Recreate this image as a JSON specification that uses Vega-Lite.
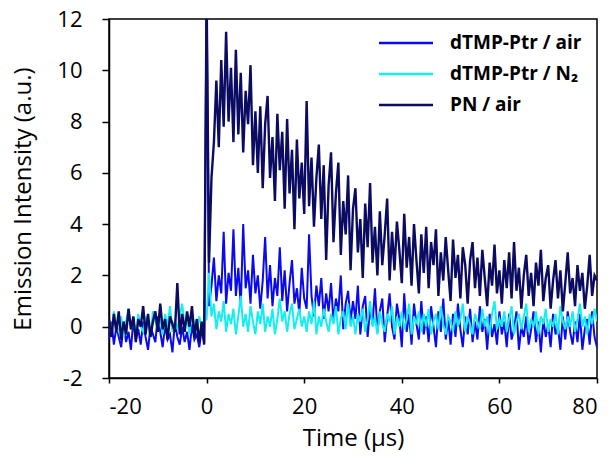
{
"$schema": "https://vega.github.io/schema/vega-lite/v6.json",
"width": 488, "height": 359,
"autosize": {"type": "none"},
"padding": {"left": 109, "top": 19, "right": 18, "bottom": 81},
"background": "white",
"config": {"view": {"stroke": "black", "strokeWidth": 1.5}, "font": "Open Sans"},
"data": {"values": [
{"t":-20,"a":-0.5,"n":0.1,"p":0.3},{"t":-19.5,"a":0.2,"n":-0.3,"p":-0.4},{"t":-19,"a":-0.7,"n":0.6,"p":0.5},{"t":-18.5,"a":0.0,"n":0.0,"p":-0.2},{"t":-18,"a":-0.4,"n":-0.2,"p":0.6},{"t":-17.5,"a":-0.8,"n":0.4,"p":-0.5},{"t":-17,"a":0.1,"n":-0.4,"p":0.2},{"t":-16.5,"a":-0.6,"n":0.2,"p":-0.3},{"t":-16,"a":-0.2,"n":0.7,"p":0.7},{"t":-15.5,"a":-0.9,"n":-0.1,"p":-0.1},
{"t":-15,"a":0.3,"n":0.3,"p":0.4},{"t":-14.5,"a":-0.5,"n":-0.3,"p":-0.6},{"t":-14,"a":-0.1,"n":0.5,"p":0.3},{"t":-13.5,"a":-0.7,"n":0.0,"p":0.0},{"t":-13,"a":0.2,"n":-0.2,"p":0.8},{"t":-12.5,"a":-0.4,"n":0.4,"p":-0.3},{"t":-12,"a":-0.9,"n":0.1,"p":0.5},{"t":-11.5,"a":0.0,"n":-0.4,"p":-0.4},{"t":-11,"a":-0.3,"n":0.6,"p":0.2},{"t":-10.5,"a":-0.6,"n":0.2,"p":0.6},
{"t":-10,"a":0.4,"n":-0.1,"p":-0.2},{"t":-9.5,"a":-0.2,"n":0.3,"p":0.9},{"t":-9,"a":-0.8,"n":-0.3,"p":-0.1},{"t":-8.5,"a":0.1,"n":0.5,"p":0.3},{"t":-8,"a":-0.5,"n":0.0,"p":-0.5},{"t":-7.5,"a":-0.3,"n":0.8,"p":0.4},{"t":-7,"a":-1.0,"n":-0.2,"p":0.1},{"t":-6.5,"a":0.2,"n":0.2,"p":-0.2},{"t":-6,"a":-0.4,"n":-0.1,"p":1.7},{"t":-5.5,"a":-0.7,"n":0.4,"p":-0.3},
{"t":-5,"a":0.0,"n":0.9,"p":0.5},{"t":-4.5,"a":-0.6,"n":0.0,"p":-0.2},{"t":-4,"a":-0.2,"n":0.3,"p":0.6},{"t":-3.5,"a":-0.9,"n":-0.3,"p":0.0},{"t":-3,"a":0.1,"n":0.5,"p":0.8},{"t":-2.5,"a":-0.5,"n":0.1,"p":-0.4},{"t":-2,"a":-0.3,"n":-0.2,"p":0.3},{"t":-1.5,"a":-0.8,"n":0.4,"p":-0.6},{"t":-1,"a":-0.1,"n":0.0,"p":0.2},{"t":-0.5,"a":-0.6,"n":0.2,"p":-0.7},
{"t":0,"a":13,"n":0.3,"p":13},
{"t":0.5,"a":0.8,"n":2.1,"p":2.5},{"t":1,"a":1.6,"n":0.4,"p":5.8},{"t":1.5,"a":2.7,"n":0.9,"p":7.2},{"t":2,"a":1.0,"n":-0.1,"p":9.6},{"t":2.5,"a":2.0,"n":0.6,"p":7.0},{"t":3,"a":1.3,"n":0.2,"p":10.4},{"t":3.5,"a":3.7,"n":1.0,"p":7.8},{"t":4,"a":0.9,"n":-0.2,"p":11.5},{"t":4.5,"a":2.1,"n":0.5,"p":8.0},{"t":5,"a":1.4,"n":0.1,"p":10.1},
{"t":5.5,"a":3.8,"n":0.7,"p":7.2},{"t":6,"a":1.2,"n":-0.3,"p":10.8},{"t":6.5,"a":2.3,"n":0.4,"p":7.5},{"t":7,"a":0.8,"n":1.2,"p":9.9},{"t":7.5,"a":4.0,"n":0.0,"p":6.8},{"t":8,"a":1.5,"n":0.5,"p":9.2},{"t":8.5,"a":2.2,"n":-0.2,"p":7.9},{"t":9,"a":0.9,"n":0.8,"p":10.2},{"t":9.5,"a":2.8,"n":0.2,"p":6.3},{"t":10,"a":1.3,"n":-0.3,"p":8.4},
{"t":10.5,"a":2.0,"n":0.6,"p":6.0},{"t":11,"a":0.7,"n":0.1,"p":8.6},{"t":11.5,"a":1.8,"n":0.9,"p":5.4},{"t":12,"a":3.5,"n":-0.2,"p":7.9},{"t":12.5,"a":1.1,"n":0.4,"p":9.0},{"t":13,"a":2.4,"n":0.0,"p":5.8},{"t":13.5,"a":0.8,"n":0.7,"p":7.4},{"t":14,"a":1.9,"n":-0.3,"p":4.9},{"t":14.5,"a":1.2,"n":0.3,"p":8.3},{"t":15,"a":3.1,"n":1.1,"p":6.1},
{"t":15.5,"a":1.0,"n":0.2,"p":7.6},{"t":16,"a":2.2,"n":0.6,"p":4.6},{"t":16.5,"a":0.6,"n":-0.2,"p":8.1},{"t":17,"a":1.7,"n":0.5,"p":5.2},{"t":17.5,"a":2.6,"n":0.9,"p":6.9},{"t":18,"a":0.9,"n":-0.1,"p":3.8},{"t":18.5,"a":1.5,"n":0.3,"p":7.3},{"t":19,"a":0.5,"n":0.7,"p":5.0},{"t":19.5,"a":2.3,"n":0.0,"p":6.4},{"t":20,"a":1.1,"n":0.4,"p":4.4},
{"t":20.5,"a":0.7,"n":-0.2,"p":8.8},{"t":21,"a":3.6,"n":0.6,"p":4.7},{"t":21.5,"a":1.2,"n":0.1,"p":6.6},{"t":22,"a":0.4,"n":1.0,"p":3.9},{"t":22.5,"a":1.6,"n":-0.3,"p":5.8},{"t":23,"a":0.8,"n":0.4,"p":7.1},{"t":23.5,"a":1.9,"n":0.0,"p":4.2},{"t":24,"a":0.3,"n":0.7,"p":6.3},{"t":24.5,"a":1.3,"n":0.2,"p":2.6},{"t":25,"a":0.6,"n":-0.2,"p":5.5},
{"t":25.5,"a":1.7,"n":0.5,"p":6.8},{"t":26,"a":0.2,"n":0.1,"p":3.3},{"t":26.5,"a":1.1,"n":0.8,"p":5.2},{"t":27,"a":0.6,"n":-0.3,"p":6.4},{"t":27.5,"a":2.0,"n":0.3,"p":2.8},{"t":28,"a":-0.1,"n":0.6,"p":4.9},{"t":28.5,"a":0.9,"n":-0.1,"p":3.6},{"t":29,"a":1.4,"n":0.9,"p":5.9},{"t":29.5,"a":0.2,"n":0.0,"p":2.2},{"t":30,"a":1.0,"n":0.4,"p":4.6},
{"t":30.5,"a":0.3,"n":-0.3,"p":5.4},{"t":31,"a":1.6,"n":0.5,"p":2.9},{"t":31.5,"a":-0.3,"n":0.2,"p":4.2},{"t":32,"a":0.8,"n":0.7,"p":1.9},{"t":32.5,"a":1.2,"n":-0.2,"p":4.8},{"t":33,"a":-0.4,"n":0.3,"p":3.1},{"t":33.5,"a":0.7,"n":1.0,"p":5.6},{"t":34,"a":0.1,"n":0.0,"p":2.5},{"t":34.5,"a":1.5,"n":0.4,"p":3.9},{"t":35,"a":-0.2,"n":-0.3,"p":2.0},
{"t":35.5,"a":0.6,"n":0.6,"p":4.5},{"t":36,"a":1.1,"n":0.1,"p":2.4},{"t":36.5,"a":-0.6,"n":-0.2,"p":3.6},{"t":37,"a":0.4,"n":0.5,"p":5.0},{"t":37.5,"a":1.3,"n":0.2,"p":1.8},{"t":38,"a":0.0,"n":0.8,"p":3.7},{"t":38.5,"a":-0.5,"n":-0.3,"p":2.2},{"t":39,"a":0.9,"n":0.4,"p":4.1},{"t":39.5,"a":0.3,"n":0.0,"p":3.0},{"t":40,"a":-0.8,"n":0.6,"p":1.7},
{"t":40.5,"a":1.3,"n":-0.1,"p":4.4},{"t":41,"a":-0.2,"n":0.3,"p":2.3},{"t":41.5,"a":0.5,"n":0.9,"p":3.5},{"t":42,"a":-0.7,"n":-0.3,"p":1.6},{"t":42.5,"a":0.9,"n":0.4,"p":4.0},{"t":43,"a":0.1,"n":0.1,"p":2.6},{"t":43.5,"a":-0.5,"n":0.6,"p":1.3},{"t":44,"a":1.0,"n":-0.2,"p":3.6},{"t":44.5,"a":-0.3,"n":0.5,"p":2.1},{"t":45,"a":0.4,"n":0.0,"p":3.9},
{"t":45.5,"a":-0.6,"n":0.7,"p":1.5},{"t":46,"a":0.8,"n":-0.3,"p":3.3},{"t":46.5,"a":0.0,"n":0.2,"p":2.4},{"t":47,"a":-0.8,"n":0.5,"p":3.8},{"t":47.5,"a":0.6,"n":-0.1,"p":1.2},{"t":48,"a":-0.2,"n":0.8,"p":2.9},{"t":48.5,"a":1.1,"n":0.1,"p":1.8},{"t":49,"a":-0.5,"n":-0.3,"p":3.5},{"t":49.5,"a":0.3,"n":0.4,"p":2.2},{"t":50,"a":-0.7,"n":0.2,"p":1.0},
{"t":50.5,"a":0.5,"n":-0.2,"p":3.4},{"t":51,"a":-0.4,"n":0.6,"p":1.9},{"t":51.5,"a":0.9,"n":0.0,"p":2.8},{"t":52,"a":-0.1,"n":0.3,"p":1.1},{"t":52.5,"a":-0.8,"n":0.9,"p":3.1},{"t":53,"a":0.4,"n":-0.2,"p":2.4},{"t":53.5,"a":-0.3,"n":0.4,"p":0.9},{"t":54,"a":0.7,"n":0.1,"p":2.6},{"t":54.5,"a":-0.6,"n":-0.3,"p":3.3},{"t":55,"a":0.2,"n":0.5,"p":1.5},
{"t":55.5,"a":-0.5,"n":0.2,"p":2.7},{"t":56,"a":0.8,"n":-0.1,"p":1.2},{"t":56.5,"a":-0.2,"n":0.7,"p":3.0},{"t":57,"a":0.3,"n":0.0,"p":1.9},{"t":57.5,"a":-0.9,"n":0.4,"p":0.8},{"t":58,"a":0.5,"n":-0.3,"p":2.5},{"t":58.5,"a":-0.4,"n":0.5,"p":1.6},{"t":59,"a":0.1,"n":1.0,"p":3.2},{"t":59.5,"a":-0.7,"n":-0.1,"p":1.3},{"t":60,"a":0.6,"n":0.3,"p":2.2},
{"t":60.5,"a":-0.3,"n":0.0,"p":0.9},{"t":61,"a":0.2,"n":0.6,"p":2.6},{"t":61.5,"a":-0.8,"n":-0.2,"p":1.5},{"t":62,"a":0.5,"n":0.3,"p":2.9},{"t":62.5,"a":-0.5,"n":0.8,"p":1.1},{"t":63,"a":-0.1,"n":-0.3,"p":3.3},{"t":63.5,"a":0.6,"n":0.2,"p":1.4},{"t":64,"a":-0.9,"n":0.5,"p":2.3},{"t":64.5,"a":0.0,"n":-0.1,"p":0.7},{"t":65,"a":-0.4,"n":0.4,"p":2.0},
{"t":65.5,"a":0.4,"n":0.9,"p":2.8},{"t":66,"a":-0.7,"n":-0.2,"p":1.2},{"t":66.5,"a":-0.1,"n":0.3,"p":2.1},{"t":67,"a":0.6,"n":0.0,"p":0.8},{"t":67.5,"a":-0.6,"n":0.6,"p":2.5},{"t":68,"a":0.2,"n":-0.3,"p":1.6},{"t":68.5,"a":-1.0,"n":0.4,"p":3.0},{"t":69,"a":0.3,"n":0.1,"p":1.0},{"t":69.5,"a":-0.4,"n":0.7,"p":1.9},{"t":70,"a":0.1,"n":-0.2,"p":2.4},
{"t":70.5,"a":-0.8,"n":0.3,"p":0.7},{"t":71,"a":0.5,"n":0.0,"p":1.8},{"t":71.5,"a":-0.3,"n":0.5,"p":2.6},{"t":72,"a":0.0,"n":-0.3,"p":1.1},{"t":72.5,"a":-0.9,"n":0.8,"p":2.2},{"t":73,"a":0.4,"n":0.2,"p":0.6},{"t":73.5,"a":-0.5,"n":-0.1,"p":1.7},{"t":74,"a":0.6,"n":0.4,"p":2.9},{"t":74.5,"a":-0.2,"n":0.0,"p":1.3},{"t":75,"a":-0.7,"n":0.6,"p":1.9},
{"t":75.5,"a":0.2,"n":-0.2,"p":0.8},{"t":76,"a":-0.6,"n":0.3,"p":2.4},{"t":76.5,"a":0.5,"n":0.9,"p":1.4},{"t":77,"a":-0.9,"n":0.0,"p":2.1},{"t":77.5,"a":-0.1,"n":0.4,"p":0.7},{"t":78,"a":0.3,"n":-0.3,"p":1.6},{"t":78.5,"a":-0.7,"n":0.5,"p":2.8},{"t":79,"a":0.6,"n":0.1,"p":1.2},{"t":79.5,"a":-0.4,"n":0.7,"p":2.0},{"t":80,"a":-0.8,"n":0.2,"p":1.8}
]},
"transform": [{"fold": ["a", "n", "p"], "as": ["key", "v"]}],
"encoding": {
  "x": {"field": "t", "type": "quantitative",
        "scale": {"domain": [-20, 80], "nice": false},
        "axis": {"title": "Time (μs)", "values": [-20, 0, 20, 40, 60, 80], "grid": false, "labelExpr": "'' + datum.value",
                 "tickSize": 5, "tickWidth": 1.5, "tickColor": "black", "domainColor": "black", "domainWidth": 1.5,
                 "labelFontSize": 22, "labelColor": "black", "labelPadding": 13,
                 "titleFontSize": 24, "titleFontWeight": "normal", "titleColor": "black", "titlePadding": 9}},
  "y": {"field": "v", "type": "quantitative",
        "scale": {"domain": [-2, 12], "nice": false},
        "axis": {"title": "Emission Intensity (a.u.)", "values": [-2, 0, 2, 4, 6, 8, 10, 12], "grid": false, "labelExpr": "'' + datum.value",
                 "tickSize": 7, "tickWidth": 1.5, "tickColor": "black", "domainColor": "black", "domainWidth": 1.5,
                 "labelFontSize": 22, "labelColor": "black", "labelPadding": 20,
                 "titleFontSize": 24, "titleFontWeight": "normal", "titleColor": "black", "titlePadding": 21}}
},
"layer": [
  {"transform": [{"filter": "datum.key == 'a'"}],
   "mark": {"type": "line", "strokeWidth": 2, "clip": true},
   "encoding": {"color": {"datum": "dTMP-Ptr / air", "type": "nominal",
      "scale": {"domain": ["dTMP-Ptr / air", "dTMP-Ptr / N₂", "PN / air"], "range": ["#0a0af0", "#14eef0", "#0b0b62"]},
      "legend": {"orient": "none", "legendX": 282, "legendY": 9, "title": null, "padding": 0,
                 "symbolType": "M-2,0H2", "symbolSize": 729, "symbolStrokeWidth": 2.5,
                 "labelFontSize": 19, "labelFontWeight": "bold", "labelColor": "black", "labelOffset": 29, "rowPadding": 6}}}},
  {"transform": [{"filter": "datum.key == 'n'"}],
   "mark": {"type": "line", "strokeWidth": 2, "clip": true},
   "encoding": {"color": {"datum": "dTMP-Ptr / N₂", "type": "nominal"}}},
  {"transform": [{"filter": "datum.key == 'p'"}],
   "mark": {"type": "line", "strokeWidth": 2.4, "clip": true},
   "encoding": {"color": {"datum": "PN / air", "type": "nominal"}}}
]
}
